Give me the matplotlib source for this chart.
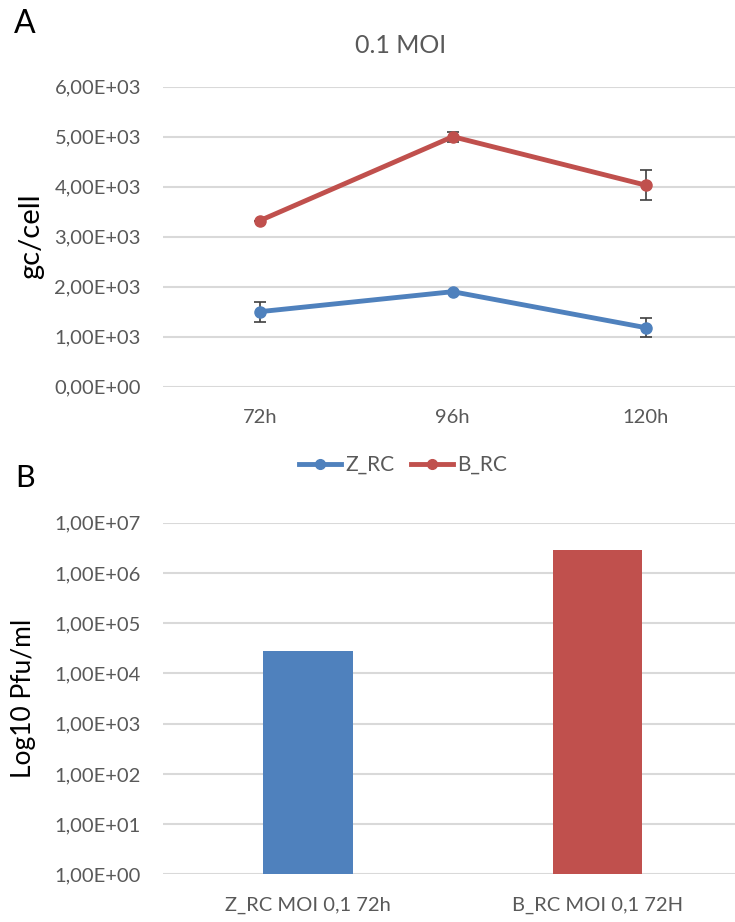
import matplotlib
matplotlib.use("Agg")
import matplotlib.pyplot as plt
from matplotlib.lines import Line2D
import numpy as np

plt.rcParams['font.family'] = ['Lato', 'DejaVu Sans']

# panel A data
times = ['72h', '96h', '120h']
z_rc = [1500, 1900, 1180]
z_err = [200, 0, 190]
b_rc = [3320, 5000, 4030]
b_err = [0, 100, 300]
a_ticks = [0, 1000, 2000, 3000, 4000, 5000, 6000]
a_labels = ['0,00E+00', '1,00E+03', '2,00E+03', '3,00E+03', '4,00E+03', '5,00E+03', '6,00E+03']

# panel B data
samples = ['Z_RC MOI 0,1 72h', 'B_RC MOI 0,1 72H']
pfu = [2.8e4, 2.9e6]
b_ticks = [1e0, 1e1, 1e2, 1e3, 1e4, 1e5, 1e6, 1e7]
b_labels = ['1,00E+00', '1,00E+01', '1,00E+02', '1,00E+03', '1,00E+04', '1,00E+05', '1,00E+06', '1,00E+07']

blue = '#4f81bd'
red = '#c0504d'
grid_c = '#d9d9d9'
txt_c = '#595959'

fig = plt.figure(figsize=(7.35, 9.22), dpi=100)

def style(ax):
    for s in ax.spines.values():
        s.set_visible(False)
    ax.tick_params(length=0, colors=txt_c, labelsize=14.5)
    ax.yaxis.grid(True, color=grid_c, linewidth=1.5)
    ax.set_axisbelow(True)

# ---- A ----
axA = fig.add_axes([0.222, 0.5806, 0.788, 0.3254])
style(axA)
x = np.arange(len(times))
axA.errorbar(x, z_rc, yerr=z_err, color=blue, lw=3.5, marker='o', ms=8,
             ecolor='#404040', elinewidth=1.2, capsize=4, capthick=1.2)
axA.errorbar(x, b_rc, yerr=b_err, color=red, lw=3.5, marker='o', ms=8,
             ecolor='#404040', elinewidth=1.2, capsize=4, capthick=1.2)
axA.set_xlim(-0.5, 2.5)
axA.set_ylim(0, 6000)
axA.set_yticks(a_ticks)
axA.set_yticklabels(a_labels)
axA.set_xticks(x)
axA.set_xticklabels(times)
axA.tick_params(axis='x', pad=16)
axA.tick_params(axis='y', pad=16)
axA.set_ylabel('gc/cell', fontsize=21, color='black')
axA.yaxis.set_label_coords(-0.205, 0.5)
axA.set_title('0.1 MOI', fontsize=18, color=txt_c, pad=24, x=0.41)

handles = [Line2D([], [], color=blue, lw=3.5, marker='o', ms=7),
           Line2D([], [], color=red, lw=3.5, marker='o', ms=7)]
fig.legend(handles, ['Z_RC', 'B_RC'], loc='center', bbox_to_anchor=(403 / 735, 1 - 465 / 922),
           ncol=2, frameon=False, fontsize=15, labelcolor=txt_c, handlelength=2.0,
           columnspacing=0.8, handletextpad=0.2)

# ---- B ----
axB = fig.add_axes([0.222, 0.0517, 0.788, 0.3813])
style(axB)
xb = np.arange(len(samples))
axB.bar(xb, pfu, width=0.31, color=[blue, red], bottom=0)
axB.set_yscale('log')
axB.set_xlim(-0.5, 1.5)
axB.set_ylim(1, 1e7)
axB.set_yticks(b_ticks)
axB.set_yticklabels(b_labels)
axB.yaxis.set_minor_locator(matplotlib.ticker.NullLocator())
axB.set_xticks(xb)
axB.set_xticklabels(samples)
axB.tick_params(axis='x', pad=16)
axB.tick_params(axis='y', pad=16)
axB.set_ylabel('Log10 Pfu/ml', fontsize=19, color='black')
axB.yaxis.set_label_coords(-0.22, 0.5)

fig.text(25 / 735, 1 - 24 / 922, 'A', fontsize=23, va='center', ha='center')
fig.text(25 / 735, 1 - 478 / 922, 'B', fontsize=22, va='center', ha='center')

fig.savefig('out.png', dpi=100)
